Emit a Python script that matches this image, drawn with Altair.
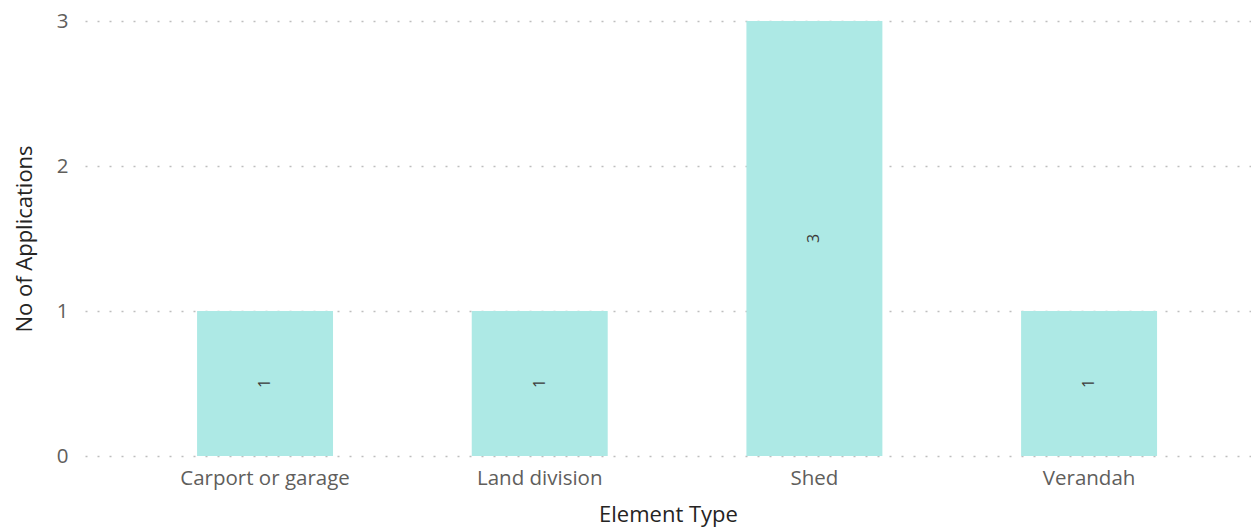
import altair as alt
import pandas as pd

categories = ["Carport or garage", "Land division", "Shed", "Verandah"]
counts = [1, 1, 3, 1]

df = pd.DataFrame({"Element Type": categories, "No of Applications": counts})

FONT = "Open Sans"

x = alt.X(
    "Element Type:N",
    sort=categories,
    title="Element Type",
    scale=alt.Scale(paddingInner=0.505, paddingOuter=0.375, align=0.544),
    axis=alt.Axis(
        labelAngle=0, ticks=False, domain=False, grid=False, labelPadding=12,
        labelFontSize=20.5, labelColor="#605E5C", labelFont=FONT,
        titleFontSize=22, titleColor="#252423", titleFont=FONT,
        titleFontWeight="normal", titlePadding=16,
    ),
)
y = alt.Y(
    "No of Applications:Q",
    title="No of Applications",
    scale=alt.Scale(domain=[0, 3], nice=False),
    axis=alt.Axis(
        values=[0, 1, 2, 3], format="d", ticks=False, domain=False,
        labelPadding=17, labelFontSize=20.5, labelColor="#605E5C", labelFont=FONT,
        titleFontSize=22, titleColor="#252423", titleFont=FONT,
        titleFontWeight="normal", titlePadding=20,
        grid=True, gridColor="#BEBEBE", gridDash=[2, 10], gridWidth=1.5,
    ),
)

bars = alt.Chart(df).mark_bar(color="#ADE9E5").encode(x=x, y=y)

text = alt.Chart(df).mark_text(
    angle=270, font=FONT, fontSize=16, color="#3B3A39", baseline="middle", align="center"
).transform_calculate(mid="datum['No of Applications'] / 2").encode(
    x=alt.X("Element Type:N", sort=categories),
    y=alt.Y("mid:Q"),
    text=alt.Text("No of Applications:Q", format="d"),
)

chart = (
    alt.layer(bars, text)
    .properties(
        width=1166, height=435,
        autosize=alt.AutoSizeParams(type="none"),
        padding={"left": 77, "top": 13, "right": 0, "bottom": 72},
    )
    .configure(background="white")
    .configure_view(strokeWidth=0, stroke="transparent")
)

chart.save("out.html", embed_options={"renderer": "svg", "actions": False})
